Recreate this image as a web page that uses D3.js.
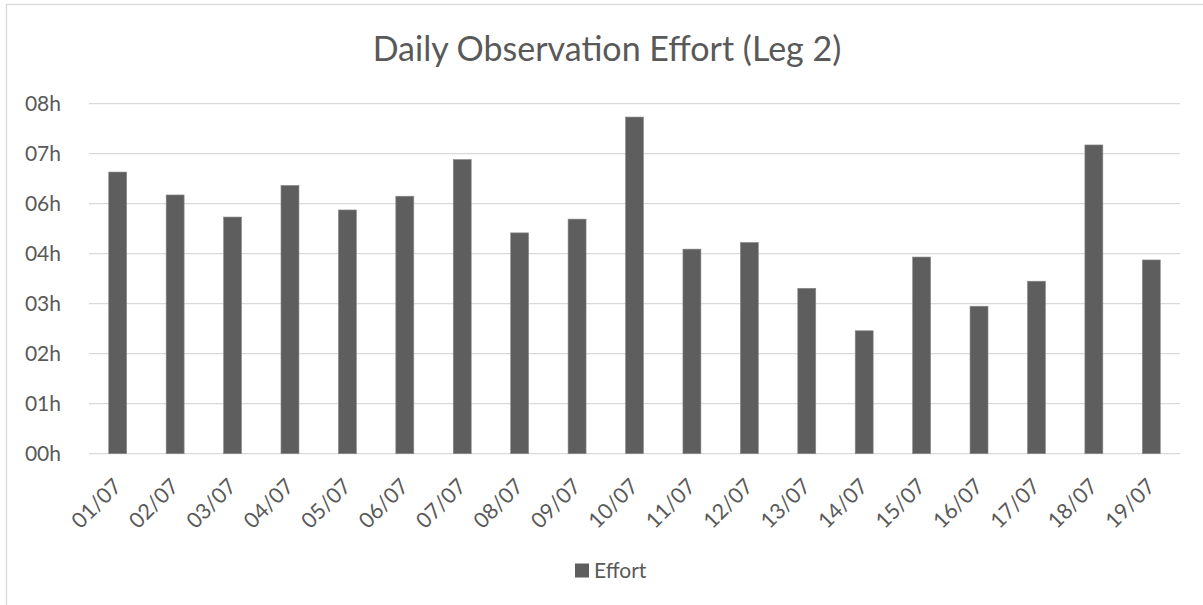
<!DOCTYPE html>
<html>
<head>
<meta charset="utf-8">
<script src="https://cdn.jsdelivr.net/npm/d3@7"></script>
<style>
  html, body { margin: 0; padding: 0; background: #fff; }
  svg { display: block; }
  text { font-family: Lato, "Open Sans", sans-serif; fill: #595959; }
</style>
</head>
<body>
<svg id="chart" width="1203" height="605"></svg>
<script>
// ---- data ----
const title = "Daily Observation Effort (Leg 2)";
const seriesName = "Effort";
const categories = ["01/07","02/07","03/07","04/07","05/07","06/07","07/07","08/07","09/07","10/07",
                    "11/07","12/07","13/07","14/07","15/07","16/07","17/07","18/07","19/07"];
// effort in hours
const effortHours = [6.76, 6.21, 5.68, 6.44, 5.85, 6.18, 7.06, 5.30, 5.63, 8.08,
                     4.91, 5.07, 3.97, 2.95, 4.72, 3.54, 4.14, 7.41, 4.65];
// axis ticks (hours) and their labels (Excel "hh" format of 0.05-day steps)
const tickValues = [0, 1.2, 2.4, 3.6, 4.8, 6.0, 7.2, 8.4];
const tickLabels = ["00h", "01h", "02h", "03h", "04h", "06h", "07h", "08h"];

// ---- layout ----
const svg = d3.select("#chart");
const plotLeft = 89, plotRight = 1180, plotTop = 103.7, plotBottom = 453.7;
const barColor = "#5e5e5e";

// chart border (extends beyond the window on the right and bottom)
svg.append("rect")
  .attr("x", 6.5).attr("y", 4.5).attr("width", 1400).attr("height", 800)
  .attr("fill", "none").attr("stroke", "#d9d9d9").attr("stroke-width", 1.3);

const x = d3.scaleBand().domain(categories).range([plotLeft, plotRight])
  .paddingInner(0.687).paddingOuter(0.3435);
const y = d3.scaleLinear().domain([0, 8.4]).range([plotBottom, plotTop]);

// gridlines
svg.append("g").selectAll("line").data(tickValues).join("line")
  .attr("x1", plotLeft).attr("x2", plotRight)
  .attr("y1", d => y(d)).attr("y2", d => y(d))
  .attr("stroke", "#d9d9d9").attr("stroke-width", 1.3);

// y axis labels
const yAxis = d3.axisLeft(y).tickValues(tickValues)
  .tickFormat((d, i) => tickLabels[i]).tickSize(0).tickPadding(0);
const yg = svg.append("g").attr("transform", "translate(61,0)").call(yAxis);
yg.select(".domain").remove();
yg.selectAll("text").style("font-size", "21px").attr("fill", "#595959")
  .style("font-family", "Lato, 'Open Sans', sans-serif");

// bars
svg.append("g").selectAll("rect").data(effortHours).join("rect")
  .attr("x", (d, i) => x(categories[i]))
  .attr("width", x.bandwidth())
  .attr("y", d => y(d))
  .attr("height", d => y(0) - y(d))
  .attr("fill", barColor)
  .attr("stroke", "#8a8a8a").attr("stroke-width", 0.6);

// x axis labels
const xAxis = d3.axisBottom(x).tickSize(0).tickPadding(0);
const xg = svg.append("g").attr("transform", `translate(0,${plotBottom})`).call(xAxis);
xg.select(".domain").remove();
xg.selectAll("text")
  .style("font-size", "21.5px").style("font-family", "Lato, 'Open Sans', sans-serif")
  .attr("fill", "#595959")
  .attr("text-anchor", "end")
  .attr("dy", null).attr("y", 0)
  .attr("transform", "translate(5,34) rotate(-45)");

// title
svg.append("text")
  .attr("x", 607).attr("y", 61)
  .attr("text-anchor", "middle")
  .style("font-size", "34px")
  .text(title);

// legend
const lg = svg.append("g");
lg.append("rect").attr("x", 575).attr("y", 563.5).attr("width", 14).attr("height", 14).attr("fill", barColor);
lg.append("text").attr("x", 594).attr("y", 578).style("font-size", "21px").text(seriesName);
</script>
</body>
</html>
